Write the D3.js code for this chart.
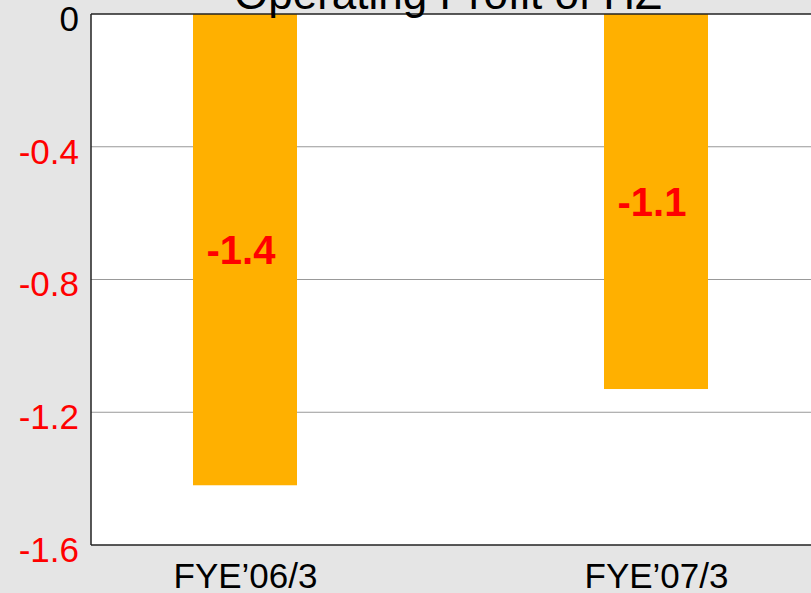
<!DOCTYPE html>
<html><head><meta charset="utf-8">
<script src="https://cdn.jsdelivr.net/npm/d3@7"></script>
<style>body{margin:0;background:#e5e5e5;}svg{display:block;font-family:Arial,"Liberation Sans",sans-serif;}</style>
</head><body>
<svg id="c" width="811" height="593"></svg>
<script>
const title = "Operating Profit of HZ";
const categories = ["FYE\u201906/3", "FYE\u201907/3"];
const values = [-1.42, -1.13];
const yTicks = [0, -0.4, -0.8, -1.2, -1.6];

const svg = d3.select("#c");
const W = 811, H = 593;
const plot = {left: 91, top: 14, right: 830, bottom: 545};
const FONT = "Arial, 'Liberation Sans', sans-serif";

svg.append("rect").attr("width", W).attr("height", H).attr("fill", "#e5e5e5");

const y = d3.scaleLinear().domain([0, -1.6]).range([plot.top, plot.bottom]);
const x = d3.scalePoint().domain(categories).range([245, 656]);
const barW = 104;

svg.append("rect").attr("x", plot.left).attr("y", plot.top)
  .attr("width", plot.right - plot.left).attr("height", plot.bottom - plot.top)
  .attr("fill", "#fff");

// gridlines
svg.append("g").selectAll("line").data(yTicks.filter(t => t !== 0 && t !== -1.6)).join("line")
  .attr("x1", plot.left).attr("x2", W)
  .attr("y1", d => y(d)).attr("y2", d => y(d))
  .attr("stroke", "#999").attr("stroke-width", 1);

// bars
svg.append("g").selectAll("rect").data(values).join("rect")
  .attr("x", (d, i) => x(categories[i]) - barW / 2)
  .attr("y", d => y(0))
  .attr("width", barW)
  .attr("height", d => y(d) - y(0))
  .attr("fill", "#ffb000");

// value labels
svg.append("g").selectAll("text").data(values).join("text")
  .attr("x", (d, i) => x(categories[i]) - 4)
  .attr("y", d => (y(0) + y(d)) / 2 + 14)
  .attr("text-anchor", "middle")
  .attr("font-size", 40).attr("font-weight", "bold")
  .attr("fill", "#ff0000")
  .text(d => d.toFixed(1));

// frame lines
svg.append("line").attr("x1", plot.left).attr("x2", W).attr("y1", plot.top).attr("y2", plot.top)
  .attr("stroke", "#222").attr("stroke-width", 1.5);
svg.append("line").attr("x1", plot.left).attr("x2", W).attr("y1", plot.bottom).attr("y2", plot.bottom)
  .attr("stroke", "#222").attr("stroke-width", 1.5);
svg.append("line").attr("x1", plot.left).attr("x2", plot.left).attr("y1", plot.top).attr("y2", plot.bottom)
  .attr("stroke", "#222").attr("stroke-width", 1.5);

// y axis labels
const yAxis = d3.axisLeft(y).tickValues(yTicks).tickSize(0).tickPadding(12)
  .tickFormat(d => d === 0 ? "0" : d3.format(".1f")(d).replace("\u2212", "-"));
const gy = svg.append("g").attr("transform", `translate(${plot.left},0)`).call(yAxis);
gy.select(".domain").remove();
gy.selectAll("text").attr("font-size", 35).attr("font-family", FONT)
  .attr("fill", d => d === 0 ? "#000" : "#ff0000")
  .attr("dy", "0.47em");

// x axis labels
const xAxis = d3.axisBottom(x).tickSize(0).tickPadding(18);
const gx = svg.append("g").attr("transform", `translate(0,${plot.bottom})`).call(xAxis);
gx.select(".domain").remove();
gx.selectAll("text").attr("font-size", 35).attr("font-family", FONT)
  .attr("fill", "#000");

// title
svg.append("text").attr("x", 448).attr("y", 9).attr("text-anchor", "middle")
  .attr("font-size", 44).attr("fill", "#000").text(title);
</script>
</body></html>
